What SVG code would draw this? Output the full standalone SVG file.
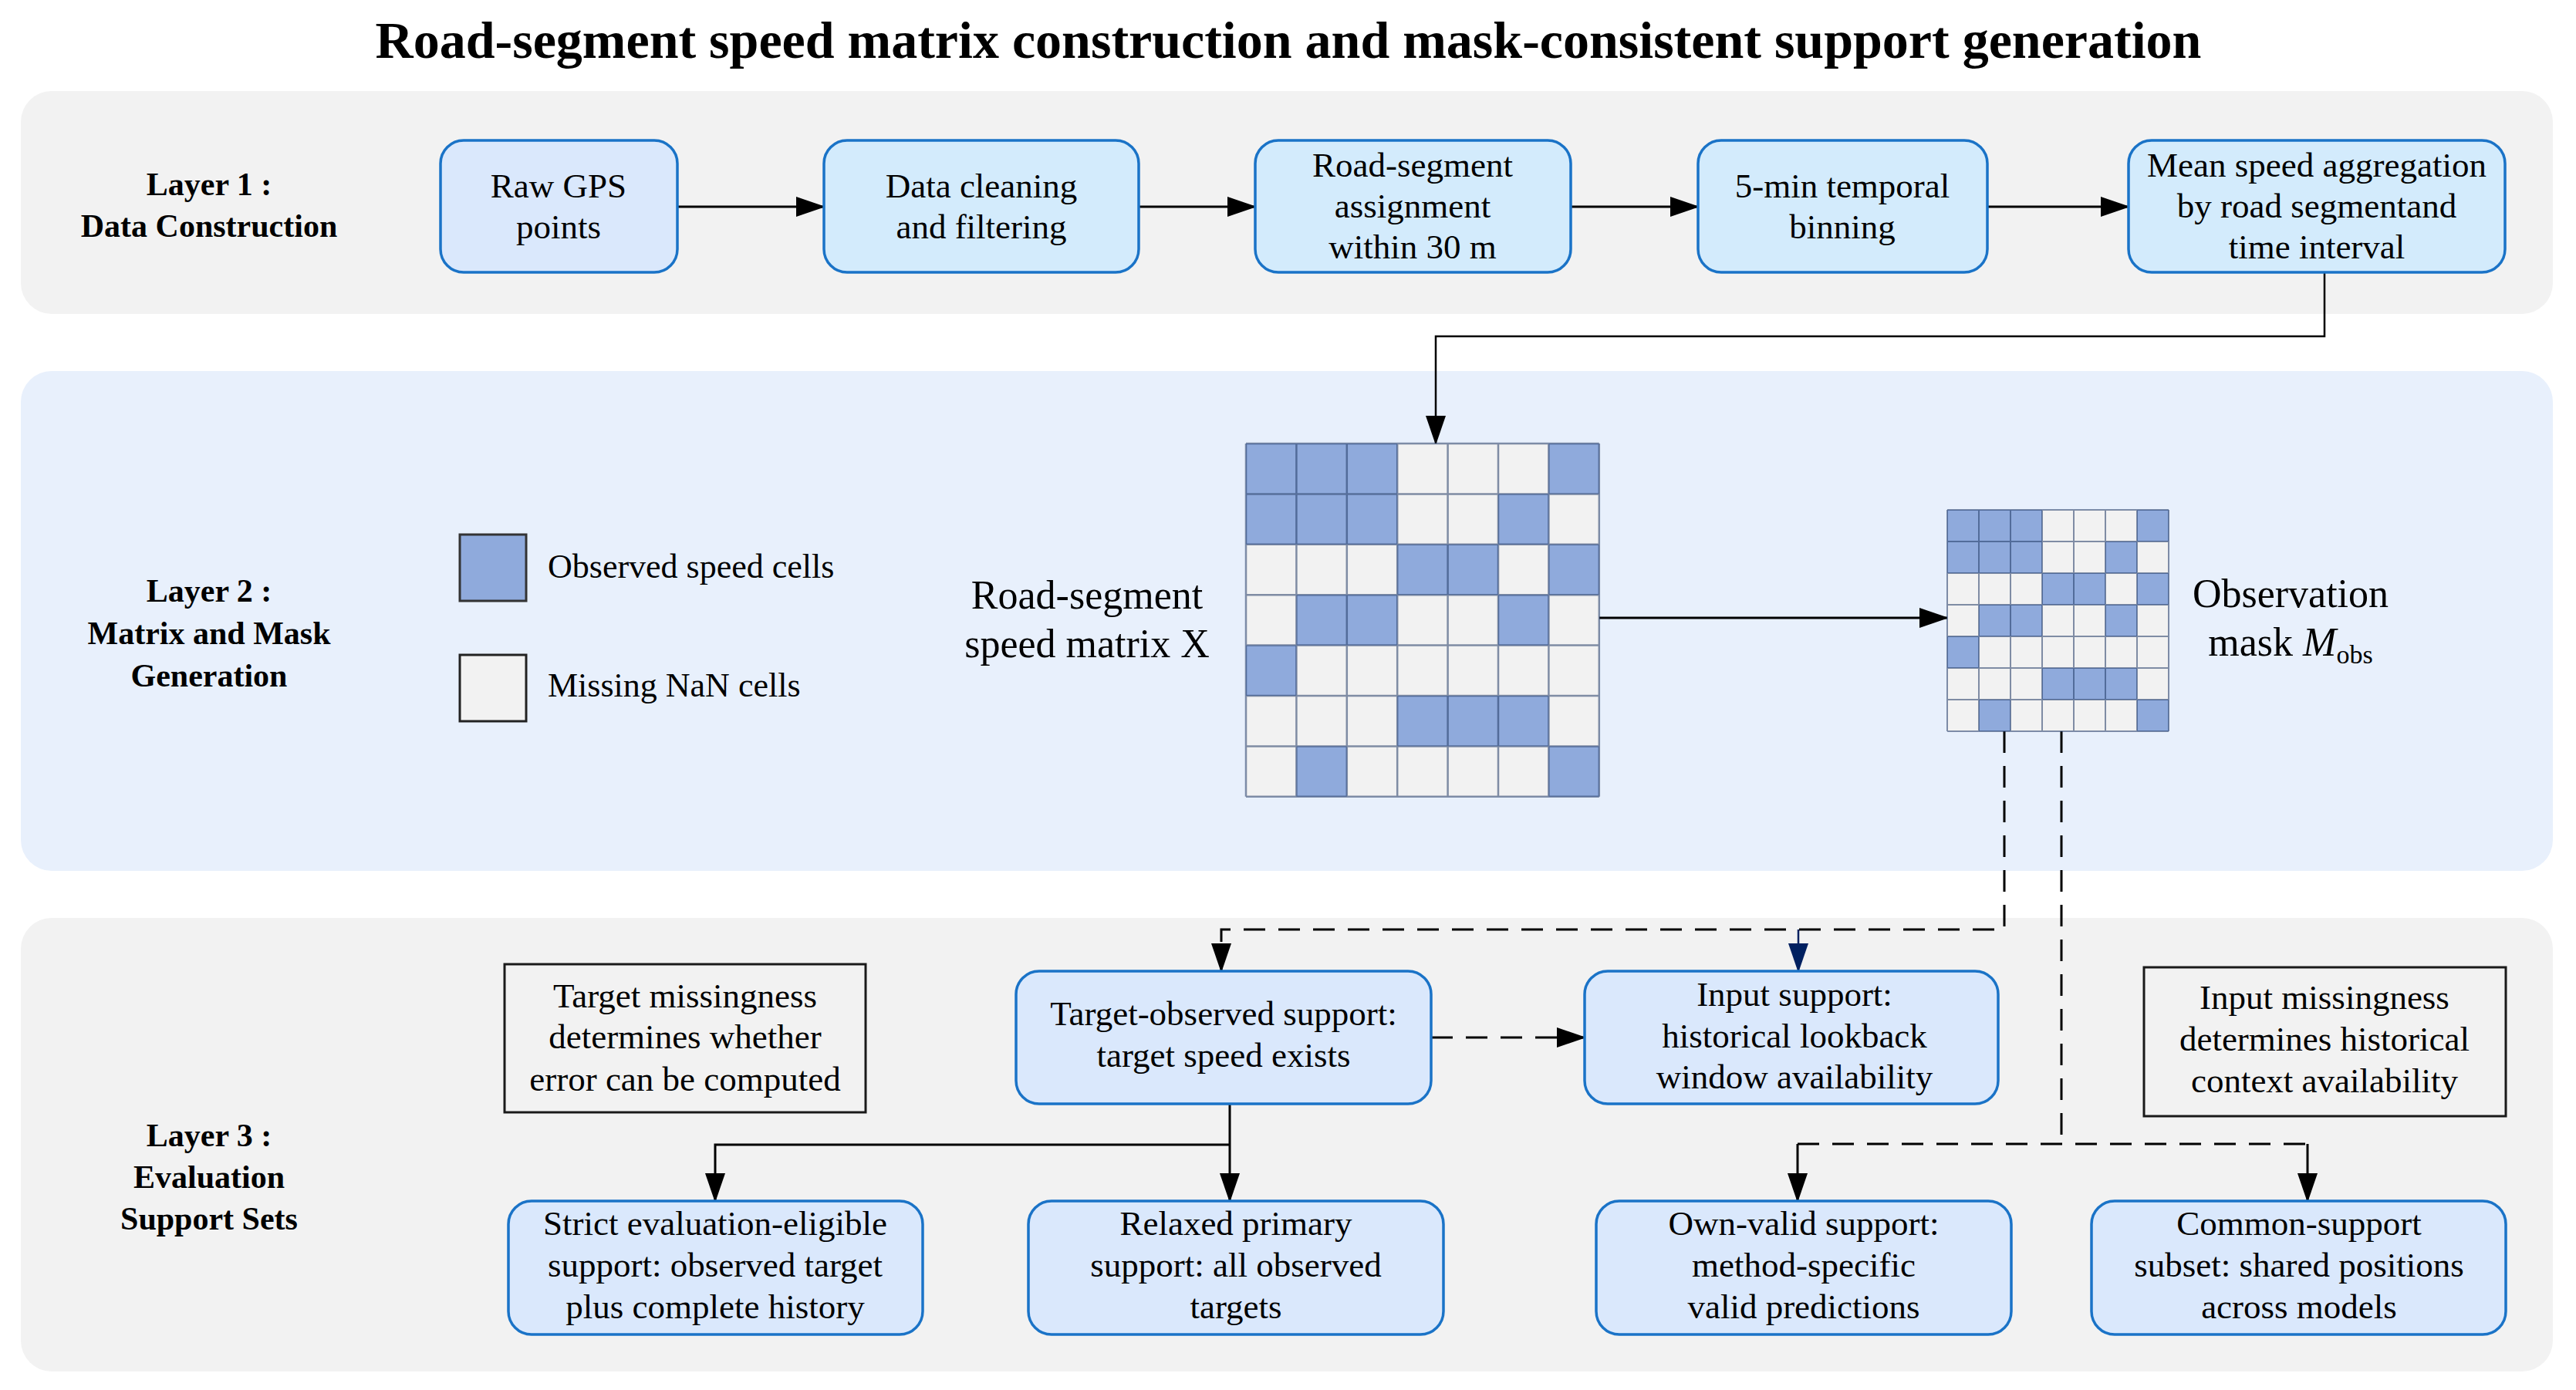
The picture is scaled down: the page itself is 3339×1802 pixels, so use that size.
<svg xmlns="http://www.w3.org/2000/svg" width="3339" height="1802" viewBox="0 0 3339 1802">
<style>
text{font-family:'Liberation Serif','Times New Roman',serif;fill:#000}
.title{font-size:68px;font-weight:bold;text-anchor:middle}
.lbl{font-size:42px;font-weight:bold;text-anchor:middle}
.t{font-size:45px;text-anchor:middle}
.leg{font-size:44px}
.big{font-size:52px;text-anchor:middle}
.box{fill:#DAE8FC;stroke:#1A73C7;stroke-width:3.5}
.boxc{fill:#D3EBFC;stroke:#1A73C7;stroke-width:3.5}
.note{fill:none;stroke:#1a1a1a;stroke-width:3}
.ob{fill:#8FAADC}
.ms{fill:#F2F2F2}
.grid{fill:none;stroke:#203864;stroke-opacity:0.55;stroke-width:2.5}
.c{fill:none;stroke:#000;stroke-width:3}
.d{fill:none;stroke:#000;stroke-width:3;stroke-dasharray:28 17}
</style>
<defs>
<marker id="ah" markerUnits="userSpaceOnUse" markerWidth="38" markerHeight="26" refX="36" refY="13" orient="auto"><path d="M0,0 L38,13 L0,26 z" fill="#000"/></marker>
<marker id="ahn" markerUnits="userSpaceOnUse" markerWidth="38" markerHeight="26" refX="36" refY="13" orient="auto"><path d="M0,0 L38,13 L0,26 z" fill="#002060"/></marker>
</defs>
<rect width="3339" height="1802" fill="#fff"/>
<text class="title" x="1670" y="75">Road-segment speed matrix construction and mask-consistent support generation</text>

<g id="layer1">
<rect x="27" y="118" width="3282" height="289" rx="40" fill="#F2F2F2"/>
<text class="lbl" x="271" y="253">Layer 1 :</text>
<text class="lbl" x="271" y="307">Data Construction</text>
</g>
<g id="layer2">
<rect x="27" y="481" width="3282" height="648" rx="40" fill="#E8F0FC"/>
<text class="lbl" x="271" y="780">Layer 2 :</text>
<text class="lbl" x="271" y="835">Matrix and Mask</text>
<text class="lbl" x="271" y="890">Generation</text>
</g>
<g id="layer3">
<rect x="27" y="1190" width="3282" height="588" rx="40" fill="#F2F2F2"/>
<text class="lbl" x="271" y="1486">Layer 3 :</text>
<text class="lbl" x="271" y="1540">Evaluation</text>
<text class="lbl" x="271" y="1594">Support Sets</text>
</g>

<g id="connectors">
<path class="c" d="M879 268 H1068" marker-end="url(#ah)"/>
<path class="c" d="M1476 268 H1627" marker-end="url(#ah)"/>
<path class="c" d="M2036 268 H2201" marker-end="url(#ah)"/>
<path class="c" d="M2576 268 H2759" marker-end="url(#ah)"/>
<path class="c" style="stroke-width:2.5" d="M3013 353 V436 H1861 V575" marker-end="url(#ah)"/>
<path class="c" d="M2073 801 H2524" marker-end="url(#ah)"/>
<path class="d" d="M2598 948 V1205 H1583 V1259" marker-end="url(#ah)"/>
<path fill="none" stroke="#002060" stroke-width="2.5" d="M2331 1205 V1259" marker-end="url(#ahn)"/>
<path class="d" d="M1855 1345 H2054" marker-end="url(#ah)"/>
<path class="d" d="M2672 948 V1483"/>
<path class="d" d="M2330 1483 H2991"/>
<path class="c" d="M2330 1483 V1557" marker-end="url(#ah)"/>
<path class="c" d="M2991 1483 V1557" marker-end="url(#ah)"/>
<path class="c" d="M1594 1431 V1557" marker-end="url(#ah)"/>
<path class="c" d="M1594 1484 H927 V1557" marker-end="url(#ah)"/>
</g>

<g id="raw-gps">
<rect class="box" x="571" y="182" width="307" height="171" rx="30"/>
<text class="t" x="724" y="256">Raw GPS</text>
<text class="t" x="724" y="309">points</text>
</g>
<g id="cleaning">
<rect class="boxc" x="1068" y="182" width="408" height="171" rx="30"/>
<text class="t" x="1272" y="256">Data cleaning</text>
<text class="t" x="1272" y="309">and filtering</text>
</g>
<g id="assignment">
<rect class="boxc" x="1627" y="182" width="409" height="171" rx="30"/>
<text class="t" x="1831" y="229">Road-segment</text>
<text class="t" x="1831" y="282">assignment</text>
<text class="t" x="1831" y="335">within 30 m</text>
</g>
<g id="binning">
<rect class="boxc" x="2201" y="182" width="375" height="171" rx="30"/>
<text class="t" x="2388" y="256">5-min temporal</text>
<text class="t" x="2388" y="309">binning</text>
</g>
<g id="aggregation">
<rect class="boxc" x="2759" y="182" width="488" height="171" rx="30"/>
<text class="t" x="3003" y="229">Mean speed aggregation</text>
<text class="t" x="3003" y="282">by road segmentand</text>
<text class="t" x="3003" y="335">time interval</text>
</g>

<g id="legend">
<rect class="ob" x="596" y="693" width="86" height="86" stroke="#333" stroke-width="3"/>
<text class="leg" x="710" y="749">Observed speed cells</text>
<rect class="ms" x="596" y="849" width="86" height="86" stroke="#222" stroke-width="3"/>
<text class="leg" x="710" y="903">Missing NaN cells</text>
</g>

<g id="matrix-x">
<text class="big" x="1409" y="789">Road-segment</text>
<text class="big" x="1409" y="852">speed matrix X</text>
<rect class="ms" x="1615" y="575" width="457.8" height="457.8"/>
<rect class="ob" x="1615" y="575" width="196.2" height="65.4"/>
<rect class="ob" x="2007.4" y="575" width="65.4" height="65.4"/>
<rect class="ob" x="1615" y="640.4" width="196.2" height="65.4"/>
<rect class="ob" x="1942" y="640.4" width="65.4" height="65.4"/>
<rect class="ob" x="1811.2" y="705.8" width="130.8" height="65.4"/>
<rect class="ob" x="2007.4" y="705.8" width="65.4" height="65.4"/>
<rect class="ob" x="1680.4" y="771.2" width="130.8" height="65.4"/>
<rect class="ob" x="1942" y="771.2" width="65.4" height="65.4"/>
<rect class="ob" x="1615" y="836.6" width="65.4" height="65.4"/>
<rect class="ob" x="1811.2" y="902" width="196.2" height="65.4"/>
<rect class="ob" x="1680.4" y="967.4" width="65.4" height="65.4"/>
<rect class="ob" x="2007.4" y="967.4" width="65.4" height="65.4"/>
<path class="grid" d="M1615 575V1032.8M1680.4 575V1032.8M1745.8 575V1032.8M1811.2 575V1032.8M1876.6 575V1032.8M1942 575V1032.8M2007.4 575V1032.8M2072.8 575V1032.8M1615 575H2072.8M1615 640.4H2072.8M1615 705.8H2072.8M1615 771.2H2072.8M1615 836.6H2072.8M1615 902H2072.8M1615 967.4H2072.8M1615 1032.8H2072.8"/>
</g>

<g id="mask">
<rect class="ms" x="2524" y="661" width="287" height="287"/>
<rect class="ob" x="2524" y="661" width="123" height="41"/>
<rect class="ob" x="2770" y="661" width="41" height="41"/>
<rect class="ob" x="2524" y="702" width="123" height="41"/>
<rect class="ob" x="2729" y="702" width="41" height="41"/>
<rect class="ob" x="2647" y="743" width="82" height="41"/>
<rect class="ob" x="2770" y="743" width="41" height="41"/>
<rect class="ob" x="2565" y="784" width="82" height="41"/>
<rect class="ob" x="2729" y="784" width="41" height="41"/>
<rect class="ob" x="2524" y="825" width="41" height="41"/>
<rect class="ob" x="2647" y="866" width="123" height="41"/>
<rect class="ob" x="2565" y="907" width="41" height="41"/>
<rect class="ob" x="2770" y="907" width="41" height="41"/>
<path class="grid" style="stroke-width:2" d="M2524 661V948M2565 661V948M2606 661V948M2647 661V948M2688 661V948M2729 661V948M2770 661V948M2811 661V948M2524 661H2811M2524 702H2811M2524 743H2811M2524 784H2811M2524 825H2811M2524 866H2811M2524 907H2811M2524 948H2811"/>
<text class="big" x="2969" y="787">Observation</text>
<text class="big" x="2969" y="850">mask <tspan font-style="italic">M</tspan><tspan font-size="34" dy="10">obs</tspan></text>
</g>

<g id="note-target">
<rect class="note" x="654" y="1250" width="468" height="192"/>
<text class="t" x="888" y="1306">Target missingness</text>
<text class="t" x="888" y="1359">determines whether</text>
<text class="t" x="888" y="1414">error can be computed</text>
</g>
<g id="target-observed">
<rect class="box" x="1317" y="1259" width="538" height="172" rx="30"/>
<text class="t" x="1586" y="1329">Target-observed support:</text>
<text class="t" x="1586" y="1383">target speed exists</text>
</g>
<g id="input-support">
<rect class="box" x="2054" y="1259" width="536" height="172" rx="30"/>
<text class="t" x="2326" y="1304">Input support:</text>
<text class="t" x="2326" y="1358">historical lookback</text>
<text class="t" x="2326" y="1411">window availability</text>
</g>
<g id="note-input">
<rect class="note" x="2779" y="1254" width="469" height="193"/>
<text class="t" x="3013" y="1308">Input missingness</text>
<text class="t" x="3013" y="1362">determines historical</text>
<text class="t" x="3013" y="1416">context availability</text>
</g>
<g id="strict">
<rect class="box" x="659" y="1557" width="537" height="173" rx="30"/>
<text class="t" x="927" y="1601">Strict evaluation-eligible</text>
<text class="t" x="927" y="1655">support: observed target</text>
<text class="t" x="927" y="1709">plus complete history</text>
</g>
<g id="relaxed">
<rect class="box" x="1333" y="1557" width="538" height="173" rx="30"/>
<text class="t" x="1602" y="1601">Relaxed primary</text>
<text class="t" x="1602" y="1655">support: all observed</text>
<text class="t" x="1602" y="1709">targets</text>
</g>
<g id="own-valid">
<rect class="box" x="2069" y="1557" width="538" height="173" rx="30"/>
<text class="t" x="2338" y="1601">Own-valid support:</text>
<text class="t" x="2338" y="1655">method-specific</text>
<text class="t" x="2338" y="1709">valid predictions</text>
</g>
<g id="common-support">
<rect class="box" x="2711" y="1557" width="537" height="173" rx="30"/>
<text class="t" x="2980" y="1601">Common-support</text>
<text class="t" x="2980" y="1655">subset: shared positions</text>
<text class="t" x="2980" y="1709">across models</text>
</g>
</svg>
